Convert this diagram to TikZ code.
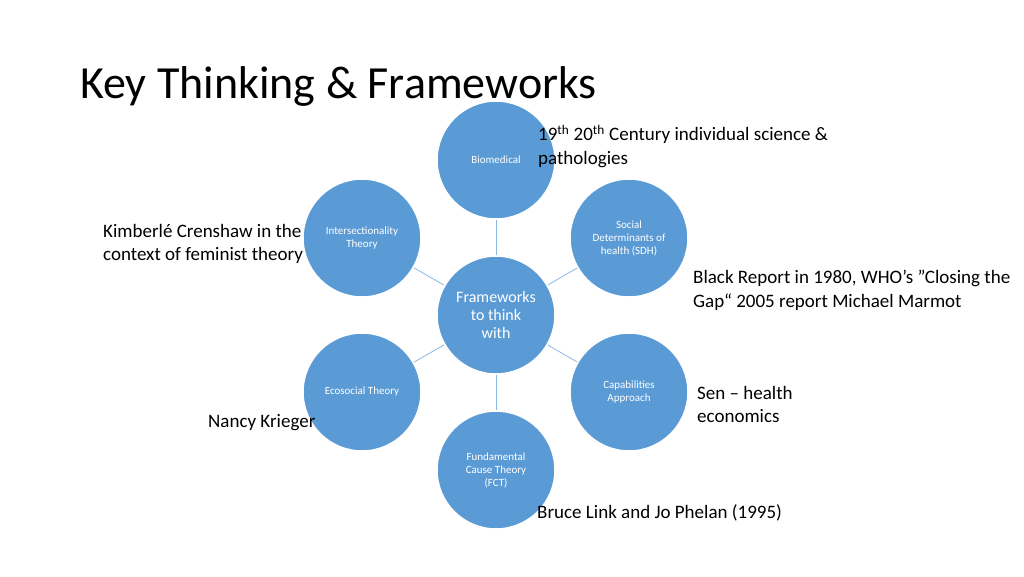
\documentclass[tikz,border=0pt]{standalone}
\usepackage{fontspec}
\setmainfont{Carlito}
\begin{document}
\begin{tikzpicture}[x=1pt,y=-1pt,
 circ/.style={circle,fill=blue1,draw=white,line width=1.5pt,minimum size=118pt,inner sep=0pt,text=white,font=\fontsize{11}{13}\selectfont,align=center},
 lbl/.style={anchor=north west,inner sep=0pt,font=\fontsize{19}{23.5}\selectfont,align=left},
 conn/.style={draw=blue1!70,line width=0.8pt}]
\definecolor{blue1}{HTML}{5B9BD5}
\useasboundingbox (0,0) rectangle (1024,576);
\node[anchor=west,inner sep=0pt,font=\fontsize{46}{50}\selectfont] (title) at (80,86) {Key Thinking \& Frameworks};
\node[circ] (c) at (496,315) {};
\node[circ] (bio) at (496,160) {Biomedical};
\node[circ] (sdh) at (629,238) {Social\\Determinants of\\health (SDH)};
\node[circ] (int) at (362,238) {Intersectionality\\Theory};
\node[circ] (eco) at (362,392) {Ecosocial Theory};
\node[circ] (cap) at (629,392) {Capabilities\\Approach};
\node[circ] (fct) at (496,470) {Fundamental\\Cause Theory\\(FCT)};
\foreach \n in {bio,sdh,int,eco,cap,fct} \draw[conn] (c) -- (\n);
\node[circ,font=\fontsize{16}{18}\selectfont] at (496,315) {Frameworks\\to think\\with};
\node[lbl] (t1) at (538,125) {19\textsuperscript{th} 20\textsuperscript{th} Century individual science \&\\pathologies};
\node[lbl] (t2) at (103,224) {Kimberlé Crenshaw in the\\context of feminist theory};
\node[lbl] (t3) at (693,270) {Black Report in 1980, WHO's "Closing the\\Gap“ 2005 report Michael Marmot};
\node[lbl] (t4) at (697,386) {Sen – health\\economics};
\node[lbl] (t5) at (208,414) {Nancy Krieger};
\node[lbl] (t6) at (537,504) {Bruce Link and Jo Phelan (1995)};
\end{tikzpicture}
\end{document}
